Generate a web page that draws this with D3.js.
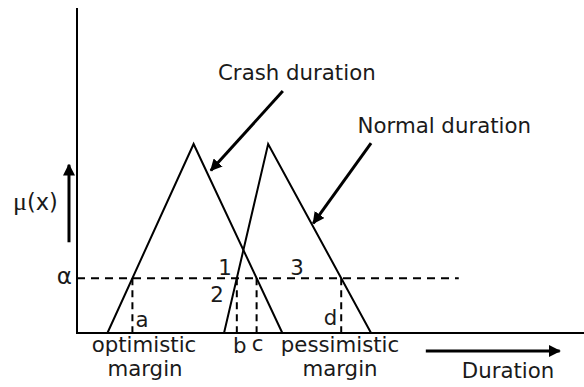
<!DOCTYPE html>
<html><head><meta charset="utf-8">
<script src="https://cdn.jsdelivr.net/npm/d3@7"></script>
<style>body{margin:0;background:#fff}svg{display:block}text{font-family:"DejaVu Sans",Verdana,sans-serif;fill:#1a1a1a}</style>
</head><body>
<script>
// Data (duration units 0..100, membership 0..1)
const crashTri = [[6, 0], [23, 1], [40.5, 0]];
const normalTri = [[29, 0], [37.7, 1], [58, 0]];
const alphaLevel = 0.29;
const alphaLineEnd = 75.3;
const cutLabels = ["a", "b", "c", "d"];
const regionLabels = ["1", "2", "3"];
const seriesNames = ["Crash duration", "Normal duration"];

const W = 584, H = 387;
const svg = d3.select("body").append("svg").attr("width", W).attr("height", H);
const x = d3.scaleLinear().domain([0, 100]).range([77, 584]);
const y = d3.scaleLinear().domain([0, 1]).range([333, 144]);

const leftAt = (t, v) => t[0][0] + v * (t[1][0] - t[0][0]);
const rightAt = (t, v) => t[2][0] - v * (t[2][0] - t[1][0]);
const cuts = [leftAt(crashTri, alphaLevel), leftAt(normalTri, alphaLevel),
              rightAt(crashTri, alphaLevel), rightAt(normalTri, alphaLevel)];

const defs = svg.append("defs");
defs.append("marker").attr("id", "ah").attr("viewBox", "0 0 10 10")
  .attr("refX", 9).attr("refY", 5).attr("markerWidth", 4).attr("markerHeight", 4)
  .attr("markerUnits", "strokeWidth").attr("orient", "auto")
  .append("path").attr("d", "M0,0 L10,5 L0,10 z").attr("fill", "#000");

// axes
svg.append("line").attr("x1", x(0)).attr("x2", x(0)).attr("y1", y(0)).attr("y2", y(1.72))
  .attr("stroke", "#000").attr("stroke-width", 2);
svg.append("line").attr("x1", x(0) - 1).attr("x2", x(100)).attr("y1", y(0)).attr("y2", y(0))
  .attr("stroke", "#000").attr("stroke-width", 2);

// alpha dashed line
svg.append("line").attr("x1", x(0)).attr("x2", x(alphaLineEnd))
  .attr("y1", y(alphaLevel)).attr("y2", y(alphaLevel))
  .attr("stroke", "#000").attr("stroke-width", 2).attr("stroke-dasharray", "8,6");

// vertical dashed cut lines
svg.selectAll(".cut").data(cuts).join("line")
  .attr("x1", d => x(d)).attr("x2", d => x(d))
  .attr("y1", y(alphaLevel)).attr("y2", y(0))
  .attr("stroke", "#000").attr("stroke-width", 2).attr("stroke-dasharray", "7,5");

// triangles
const line = d3.line().x(d => x(d[0])).y(d => y(d[1]));
[crashTri, normalTri].forEach(t => {
  svg.append("path").attr("d", line(t)).attr("fill", "none")
    .attr("stroke", "#000").attr("stroke-width", 2).attr("stroke-linejoin", "miter");
});

// annotation arrows
const arrows = [
  [[40.6, 1.28], [26.4, 0.86]],
  [[58.0, 1.005], [46.6, 0.58]],
  [[-1.58, 0.48], [-1.58, 0.89]]
];
arrows.forEach(a => {
  svg.append("line").attr("x1", x(a[0][0])).attr("y1", y(a[0][1]))
    .attr("x2", x(a[1][0])).attr("y2", y(a[1][1]))
    .attr("stroke", "#000").attr("stroke-width", 3).attr("marker-end", "url(#ah)");
});
svg.append("line").attr("x1", x(68.8)).attr("y1", y(-0.095)).attr("x2", x(95.2)).attr("y2", y(-0.095))
  .attr("stroke", "#000").attr("stroke-width", 3).attr("marker-end", "url(#ah)");

const fs = 21.3;
function txt(t, px, py, anchor) {
  return svg.append("text").attr("x", px).attr("y", py).attr("font-size", fs)
    .attr("text-anchor", anchor || "start").text(t);
}
txt(seriesNames[0], 218, 80);
txt(seriesNames[1], 531, 133, "end");
txt("Duration", 508, 378, "middle");
txt("optimistic", 144, 352, "middle");
txt("margin", 145, 376, "middle");
txt("pessimistic", 340, 352, "middle");
txt("margin", 340, 376, "middle");

// cut labels
txt(cutLabels[0], x(cuts[0]) + 3, y(0) - 6);
txt(cutLabels[1], x(cuts[1]) + 3, 353, "middle");
txt(cutLabels[2], x(cuts[2]) + 1, 351, "middle");
txt(cutLabels[3], x(cuts[3]) - 4, y(0) - 8, "end");

// region labels
txt(regionLabels[0], x(29.2), 275, "middle");
txt(regionLabels[1], x(27.6), 302, "middle");
txt(regionLabels[2], x(43.4), 275, "middle");

// mu(x) and alpha
const mu = svg.append("text").attr("x", 13).attr("y", 210).attr("font-size", 22.5);
mu.append("tspan").attr("font-family", "Liberation Serif, serif").attr("font-size", 26).text("\u03bc");
mu.append("tspan").text("(x)");
svg.append("text").attr("x", 72).attr("y", y(alphaLevel) + 6).attr("font-size", 23)
  .attr("text-anchor", "end").attr("font-family", "Liberation Serif, serif").text("\u03b1");
</script>
</body></html>
